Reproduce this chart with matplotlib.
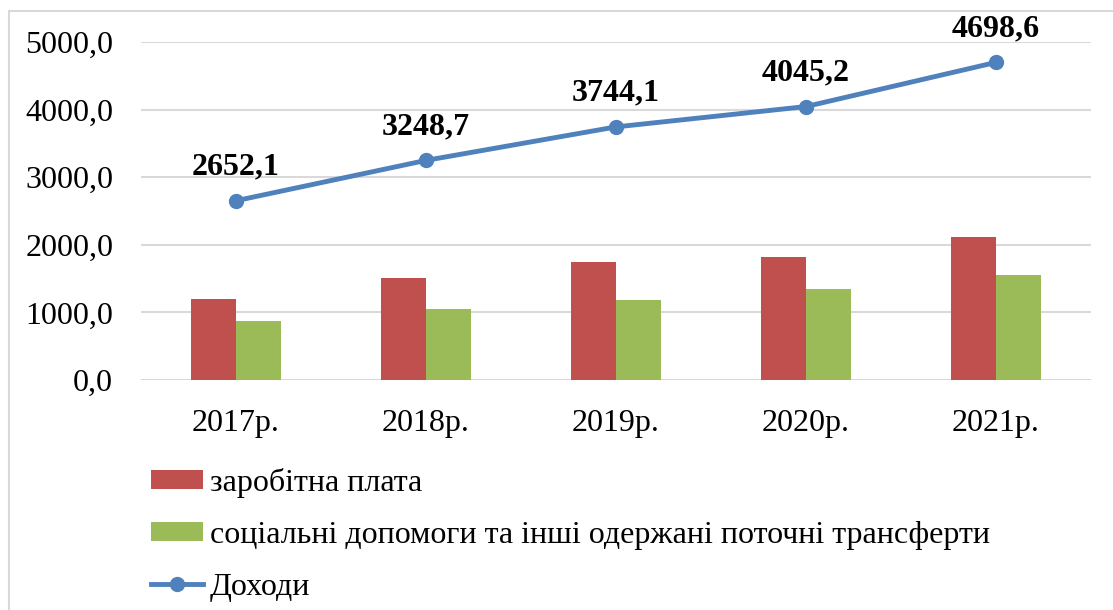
import matplotlib
matplotlib.use("Agg")
import matplotlib.pyplot as plt
import numpy as np
from matplotlib.patches import Rectangle

plt.rcParams['font.family'] = ['Liberation Serif', 'DejaVu Serif']

# data
years = ['2017р.', '2018р.', '2019р.', '2020р.', '2021р.']
wages = [1201, 1515, 1745, 1819, 2122]
social = [878, 1044, 1181, 1353, 1554]
income = [2652.1, 3248.7, 3744.1, 4045.2, 4698.6]

lbl_wages = 'заробітна плата'
lbl_social = 'соціальні допомоги та інші одержані поточні трансферти'
lbl_income = 'Доходи'

RED = '#C0504D'
GREEN = '#9BBB59'
BLUE = '#4F81BD'
GRID = '#D9D9D9'

W, H = 1113, 610
fig = plt.figure(figsize=(W / 100, H / 100), dpi=100)
ax = fig.add_axes([141 / W, 1 - 380 / H, 950 / W, 338 / H])

# outer chart frame like the office chart area
fig.patches.append(Rectangle((8.5 / W, -0.1), 1.2, 1.1 - 10.5 / H,
                             transform=fig.transFigure, fill=False,
                             edgecolor=GRID, lw=1.5))

x = np.arange(len(years))
bw = 0.237
b1 = ax.bar(x - bw / 2, wages, bw, color=RED, label=lbl_wages, zorder=2)
b2 = ax.bar(x + bw / 2, social, bw, color=GREEN, label=lbl_social, zorder=2)
ln, = ax.plot(x, income, color=BLUE, lw=3.5, marker='o', markersize=10,
              label=lbl_income, zorder=3)

for xi, v in zip(x, income):
    ax.annotate(f'{v:.1f}'.replace('.', ','), (xi, v), xytext=(0, 14),
                textcoords='offset points', ha='center', va='bottom',
                fontsize=23, fontweight='bold')

ax.set_xlim(-0.5, len(years) - 0.5)
ax.set_ylim(0, 5000)
ax.set_yticks(np.arange(0, 5001, 1000))
ax.set_yticklabels([f'{t:.1f}'.replace('.', ',') for t in np.arange(0, 5001, 1000)])
ax.set_xticks(x)
ax.set_xticklabels(years)
ax.tick_params(axis='both', length=0, labelsize=23)
ax.tick_params(axis='x', pad=21)
ax.tick_params(axis='y', pad=20)
ax.yaxis.grid(True, color=GRID, lw=1.5, zorder=0)
ax.set_axisbelow(True)
for s in ax.spines.values():
    s.set_visible(False)

fig.legend([b1, b2, ln], [lbl_wages, lbl_social, lbl_income],
           loc='upper left', bbox_to_anchor=(138 / W, 1 - 455 / H),
           frameon=False, fontsize=23, ncol=1, handlelength=1.65,
           handleheight=0.55, labelspacing=0.72, handletextpad=0.2,
           borderaxespad=0)

fig.savefig('out.png', dpi=100)
